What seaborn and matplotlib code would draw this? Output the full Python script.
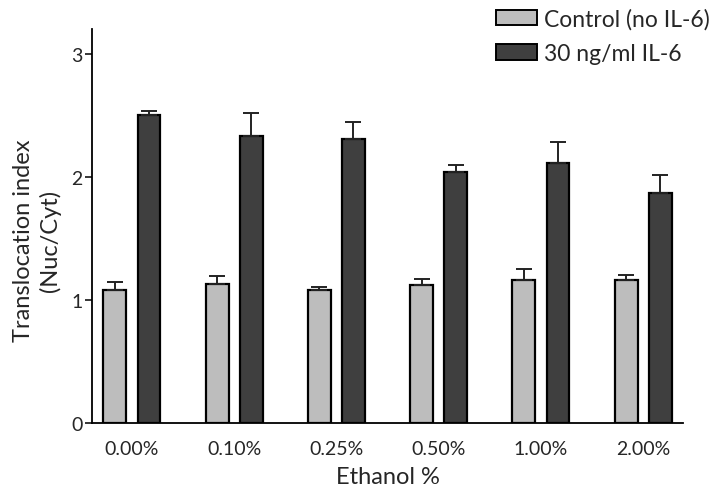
import numpy as np
import pandas as pd
import matplotlib
matplotlib.use("Agg")
import matplotlib.pyplot as plt
import seaborn as sns

categories = ["0.00%", "0.10%", "0.25%", "0.50%", "1.00%", "2.00%"]
series_names = ["Control (no IL-6)", "30 ng/ml IL-6"]
control_vals = [1.08, 1.13, 1.08, 1.12, 1.16, 1.16]
control_err = [0.065, 0.067, 0.027, 0.052, 0.09, 0.04]
il6_vals = [2.50, 2.33, 2.31, 2.04, 2.11, 1.87]
il6_err = [0.035, 0.19, 0.135, 0.057, 0.17, 0.14]
colors = ["#bdbdbd", "#3f3f3f"]

sns.set_theme(style="white")
plt.rcParams['font.family'] = ['Lato', 'DejaVu Sans']

df = pd.DataFrame({
    "Ethanol %": categories * 2,
    "value": control_vals + il6_vals,
    "series": [series_names[0]] * 6 + [series_names[1]] * 6,
})

fig = plt.figure(figsize=(7.10, 4.89), dpi=100)
ax = fig.add_axes([0.1296, 0.133, 0.962 - 0.1296, 0.9387 - 0.133])

sns.barplot(data=df, x="Ethanol %", y="value", hue="series", order=categories,
            hue_order=series_names, palette=colors, width=0.667, gap=0.33,
            errorbar=None, edgecolor="black", linewidth=1.6, ax=ax)

errs = [control_err, il6_err]
vals = [control_vals, il6_vals]
bar_containers = list(ax.containers)
for ci, cont in enumerate(bar_containers):
    xs = [p.get_x() + p.get_width() / 2 for p in cont.patches]
    ax.errorbar(xs, vals[ci], yerr=[np.zeros(6), errs[ci]], fmt="none",
                ecolor="#222222", elinewidth=1.4, capsize=5.5, capthick=1.4, zorder=1)

ax.set_ylim(0, 3.2)
ax.set_xlim(-0.39, 5.39)
ax.set_yticks([0, 1, 2, 3])
ax.set_yticklabels(["0", "1", "2", "3"])
for s in ["top", "right"]:
    ax.spines[s].set_visible(False)
for s in ["left", "bottom"]:
    ax.spines[s].set_color("black")
    ax.spines[s].set_linewidth(1.3)
ax.tick_params(axis="y", direction="out", length=5, width=1.1, color="black",
               labelsize=14, pad=2, left=True)
ax.tick_params(axis="x", length=0, labelsize=14, pad=12)
ax.set_xlabel("Ethanol %", fontsize=17, labelpad=7)
ax.set_ylabel("Translocation index\n(Nuc/Cyt)", fontsize=17, linespacing=1.3)
ax.yaxis.set_label_coords(-0.052, 0.464)

leg = ax.legend(loc="upper right", bbox_to_anchor=(1.0, 0.982),
                bbox_transform=fig.transFigure, frameon=False, fontsize=16.5,
                handlelength=1.8, handleheight=0.65, handletextpad=0.3,
                labelspacing=0.6, borderaxespad=0, borderpad=0)
for h in leg.get_patches():
    h.set_edgecolor("black")
    h.set_linewidth(1.4)

fig.savefig("out.png", dpi=100)
